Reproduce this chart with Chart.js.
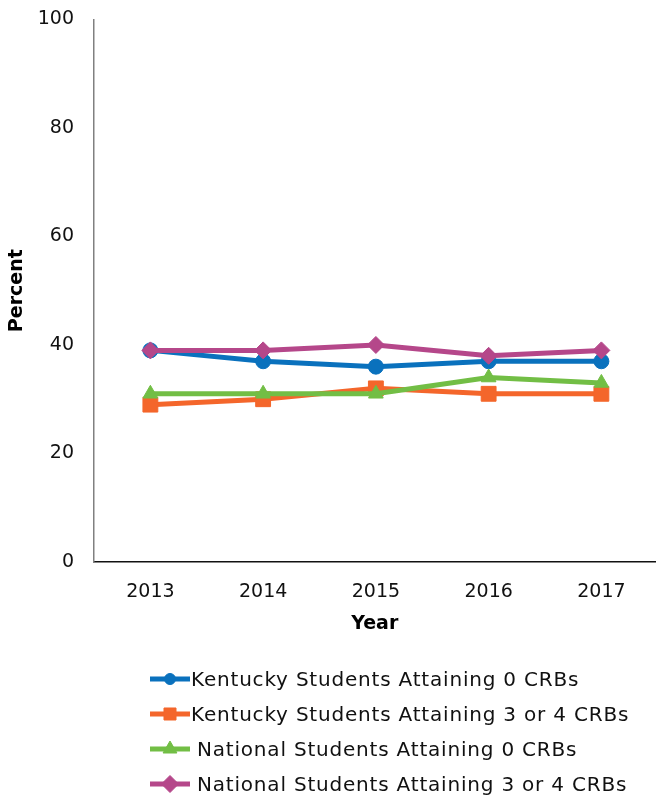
<!DOCTYPE html>
<html>
<head>
<meta charset="utf-8">
<script src="https://cdn.jsdelivr.net/npm/chart.js@4"></script>
<style>
  html, body { margin: 0; padding: 0; background: #fff; overflow: hidden; }
  #wrap { position: relative; width: 656px; height: 795px; overflow: hidden; }
  #chart-box { position: absolute; left: 0; top: -12px; width: 667px; height: 647px; }
  #legend { position: absolute; left: 150px; top: 661px; font-family: 'DejaVu Sans', sans-serif; font-size: 20px; color: #111; letter-spacing: 0.8px; white-space: nowrap; }
  .row { display: flex; align-items: center; height: 35px; }
  .row canvas { margin-right: 1px; }
  .row.gap canvas { margin-right: 7px; }
</style>
</head>
<body>
<div id="wrap">
  <div id="chart-box"><canvas id="chart"></canvas></div>
  <div id="legend"></div>
</div>
<script>
(() => {
  const years = [2013, 2014, 2015, 2016, 2017];
  const yTicks = [0, 20, 40, 60, 80, 100];

  const kyZero = [39, 37, 36, 37, 37];
  const kyThreeFour = [29, 30, 32, 31, 31];
  const natZero = [31, 31, 31, 34, 33];
  const natThreeFour = [39, 39, 40, 38, 39];

  const series = [
    { label: 'Kentucky Students Attaining 0 CRBs', data: kyZero, color: '#0a71bd', style: 'circle', radius: 7.5, legendRadius: 5.5, order: 3 },
    { label: 'Kentucky Students Attaining 3 or 4 CRBs', data: kyThreeFour, color: '#f4662b', style: 'rect', radius: 10.5, legendRadius: 8.5, order: 2 },
    { label: 'National Students Attaining 0 CRBs', data: natZero, color: '#72be45', style: 'triangle', radius: 8.5, legendRadius: 8, order: 1 },
    { label: 'National Students Attaining 3 or 4 CRBs', data: natThreeFour, color: '#b5478a', style: 'rectRot', radius: 8.5, legendRadius: 8.5, order: 0 },
  ];

  const font = "'DejaVu Sans', sans-serif";

  new Chart(document.getElementById('chart'), {
    type: 'line',
    data: {
      datasets: series.map((s) => ({
        label: s.label,
        data: s.data.map((v, i) => ({ x: years[i], y: v })),
        borderColor: s.color,
        backgroundColor: s.color,
        borderWidth: 5,
        pointStyle: s.style,
        pointRadius: s.radius,
        pointHoverRadius: s.radius,
        pointBorderWidth: 1,
        pointBorderColor: s.color,
        tension: 0,
        order: s.order,
      })),
    },
    options: {
      responsive: true,
      maintainAspectRatio: false,
      animation: false,
      layout: { padding: 0 },
      plugins: {
        legend: { display: false },
        tooltip: { enabled: false },
      },
      scales: {
        x: {
          type: 'linear',
          min: 2012.5,
          max: 2017.48,
          afterBuildTicks: (axis) => {
            axis.ticks = years.map((y) => ({ value: y }));
          },
          afterFit: (axis) => {
            axis.height = 73;
          },
          grid: { display: false, drawTicks: false },
          border: { display: true, color: '#111', width: 1.5 },
          ticks: {
            color: '#111',
            font: { family: font, size: 19 },
            padding: 19,
            callback: (v) => String(v),
            maxRotation: 0,
          },
          title: {
            display: true,
            text: 'Year',
            color: '#000',
            font: { family: font, size: 19, weight: 'bold' },
            padding: 0,
          },
        },
        y: {
          min: 0,
          max: 100,
          afterBuildTicks: (axis) => {
            axis.ticks = yTicks.map((v) => ({ value: v }));
          },
          afterFit: (axis) => {
            axis.width = 94;
          },
          grid: { display: false, drawTicks: false },
          border: { display: true, color: '#808080', width: 1.5 },
          ticks: {
            color: '#111',
            font: { family: font, size: 19 },
            padding: 20,
          },
          title: {
            display: true,
            text: 'Percent',
            color: '#000',
            font: { family: font, size: 19, weight: 'bold' },
            padding: { top: 6, bottom: 0 },
          },
        },
      },
    },
  });

  // legend: line sample with marker, then label
  const legend = document.getElementById('legend');
  series.forEach((s, i) => {
    const row = document.createElement('div');
    row.className = i >= 2 ? 'row gap' : 'row';
    const c = document.createElement('canvas');
    c.width = 40;
    c.height = 22;
    const ctx = c.getContext('2d');
    ctx.strokeStyle = s.color;
    ctx.fillStyle = s.color;
    ctx.lineWidth = 5;
    ctx.beginPath();
    ctx.moveTo(0, 11);
    ctx.lineTo(40, 11);
    ctx.stroke();
    ctx.lineWidth = 1;
    Chart.helpers.drawPoint(ctx, { pointStyle: s.style, radius: s.legendRadius, borderWidth: 1, rotation: 0 }, 20, 11);
    row.appendChild(c);
    const span = document.createElement('span');
    span.textContent = s.label;
    row.appendChild(span);
    legend.appendChild(row);
  });
})();
</script>
</body>
</html>
